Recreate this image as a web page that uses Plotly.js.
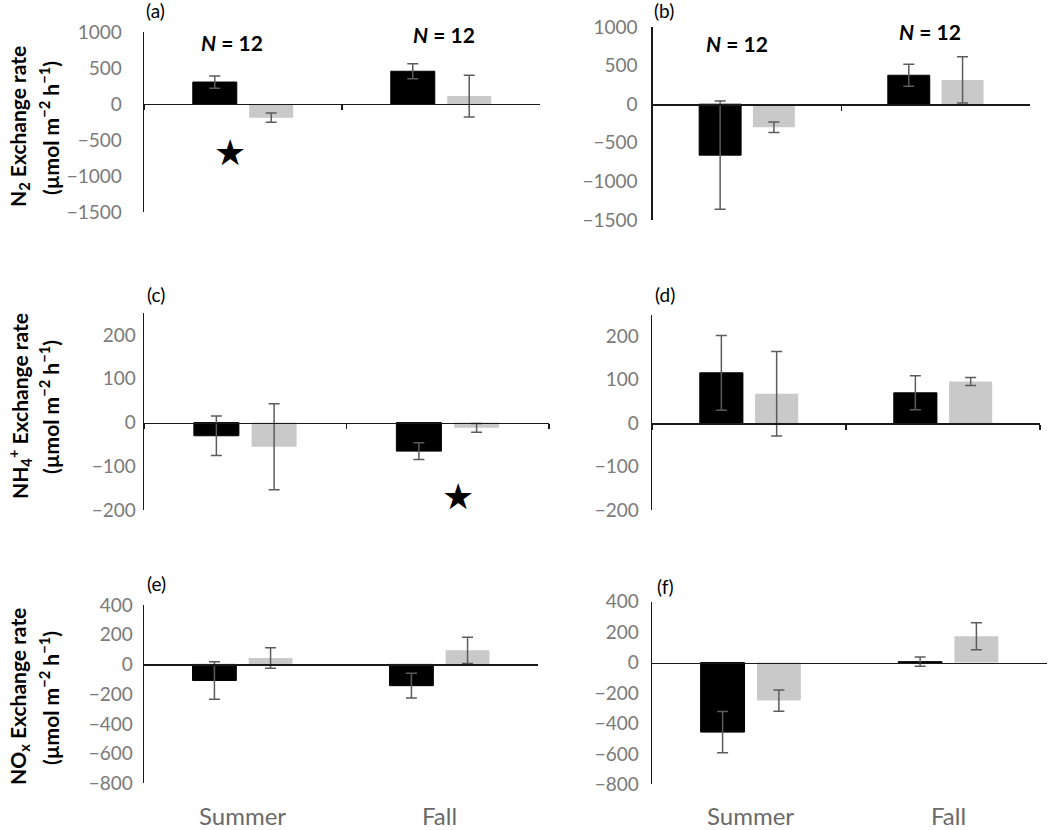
<!DOCTYPE html>
<html>
<head>
<meta charset="utf-8">
<script src="https://cdn.plot.ly/plotly-3.0.1.min.js"></script>
<style>
  html, body { margin: 0; padding: 0; background: #fff; }
  #chart { width: 1050px; height: 830px; }
</style>
</head>
<body>
<div id="chart"></div>
<script>
// Seasonal exchange rates, two sites (left / right column), two treatments per season
const seasons = ['Summer', 'Fall'];

// N2 exchange rate (µmol m-2 h-1)
const n2LeftDark = [305, 455];
const n2LeftDarkErr = [85, 105];
const n2LeftLight = [-190, 110];
const n2LeftLightErr = [65, 290];
const n2RightDark = [-660, 375];
const n2RightDarkErr = [700, 141];
const n2RightLight = [-300, 315];
const n2RightLightErr = [68, 300];

// NH4+ exchange rate
const nh4LeftDark = [-30, -65];
const nh4LeftDarkErr = [45, 19];
const nh4LeftLight = [-55, -12];
const nh4LeftLightErr = [98, 10];
const nh4RightDark = [116, 70];
const nh4RightDarkErr = [86, 39];
const nh4RightLight = [68, 96];
const nh4RightLightErr = [97, 9];

// NOx exchange rate
const noxLeftDark = [-108, -143];
const noxLeftDarkErr = [126, 83];
const noxLeftLight = [43, 95];
const noxLeftLightErr = [69, 88];
const noxRightDark = [-457, 6];
const noxRightDarkErr = [135, 31];
const noxRightLight = [-250, 173];
const noxRightLightErr = [70, 89];

// Sample sizes shown above the N2 panels
const sampleSizes = [12, 12];

// Significance stars: [panel, season, value]
const starMarks = [['a', 'Summer', -680], ['c', 'Fall', -169]];

const W = 1050, H = 830;
const px = v => v / W;
const py = v => 1 - v / H;

// Panel frames in pixels: left/right of x axis, top/bottom of y axis
const panels = [
  {id: 'a', x0: 144, x1: 540, top: 32, bot: 212, range: [-1500, 1000], dtick: 500, gap: 17,
   dark: n2LeftDark, darkErr: n2LeftDarkErr, light: n2LeftLight, lightErr: n2LeftLightErr},
  {id: 'b', x0: 652.7, x1: 1030, top: 27, bot: 220, range: [-1500, 1000], dtick: 500, gap: 10,
   dark: n2RightDark, darkErr: n2RightDarkErr, light: n2RightLight, lightErr: n2RightLightErr},
  {id: 'c', x0: 144, x1: 549, top: 313, bot: 510.3, range: [-200, 250], dtick: 100, gap: 3,
   dark: nh4LeftDark, darkErr: nh4LeftDarkErr, light: nh4LeftLight, lightErr: nh4LeftLightErr},
  {id: 'd', x0: 652, x1: 1040, top: 314.5, bot: 510.3, range: [-200, 250], dtick: 100, gap: 8,
   dark: nh4RightDark, darkErr: nh4RightDarkErr, light: nh4RightLight, lightErr: nh4RightLightErr},
  {id: 'e', x0: 144, x1: 538, top: 605, bot: 783.3, range: [-800, 400], dtick: 200, gap: 6,
   dark: noxLeftDark, darkErr: noxLeftDarkErr, light: noxLeftLight, lightErr: noxLeftLightErr, bottom: true},
  {id: 'f', x0: 652, x1: 1047, top: 601.7, bot: 784.3, range: [-800, 400], dtick: 200, gap: 8,
   dark: noxRightDark, darkErr: noxRightDarkErr, light: noxRightLight, lightErr: noxRightLightErr, bottom: true}
];

const tickGray = '#7a7a7a';
const errGray = '#5c5c5c';
const traces = [];
const layout = {
  width: W, height: H,
  margin: {l: 0, r: 0, t: 0, b: 0},
  paper_bgcolor: '#fff', plot_bgcolor: 'rgba(0,0,0,0)',
  showlegend: false,
  barmode: 'group', bargap: 0.43, bargroupgap: 0.22,
  font: {family: 'Lato, "Open Sans", sans-serif', color: '#000'},
  annotations: []
};

const axisIndex = {};
panels.forEach((p, i) => {
  const n = i + 1;
  const xa = 'x' + n, ya = 'y' + n;
  axisIndex[p.id] = {xa, ya};
  const yDom = [py(p.bot), py(p.top)];
  const zeroFrac = yDom[0] + (0 - p.range[0]) / (p.range[1] - p.range[0]) * (yDom[1] - yDom[0]);

  layout['xaxis' + n] = {
    domain: [px(p.x0), px(p.x1)], anchor: 'free', position: zeroFrac,
    type: 'category', categoryarray: seasons, range: [-0.5, 1.5],
    showline: true, linecolor: '#1a1a1a', linewidth: 1.3,
    ticks: p.bottom ? '' : 'outside', tickson: 'boundaries', ticklen: 5,
    tickcolor: '#1a1a1a', tickwidth: 1.3,
    showticklabels: false, showgrid: false, zeroline: false, fixedrange: true
  };
  layout['yaxis' + n] = {
    domain: yDom, anchor: xa, range: p.range, dtick: p.dtick, tick0: 0,
    showline: true, linecolor: '#1a1a1a', linewidth: 1.3,
    ticks: 'outside', ticklen: p.gap, tickcolor: 'rgba(0,0,0,0)',
    tickfont: {family: 'Lato, sans-serif', size: 19, color: tickGray},
    showgrid: false, zeroline: false, fixedrange: true
  };

  traces.push({
    type: 'bar', x: seasons, y: p.dark, xaxis: xa, yaxis: ya,
    marker: {color: '#000', line: {color: '#000', width: 1}},
    error_y: {type: 'data', array: p.darkErr, color: errGray, thickness: 1.5, width: 5.5},
    hoverinfo: 'skip'
  });
  traces.push({
    type: 'bar', x: seasons, y: p.light, xaxis: xa, yaxis: ya,
    marker: {color: '#c9c9c9', line: {width: 0}},
    error_y: {type: 'data', array: p.lightErr, color: errGray, thickness: 1.5, width: 5.5},
    hoverinfo: 'skip'
  });
});

// Panel letters
const letterPos = {a: [155, 10], b: [664, 10], c: [156, 294], d: [665, 294], e: [156, 583], f: [666, 586]};
Object.keys(letterPos).forEach(k => {
  layout.annotations.push({
    xref: 'paper', yref: 'paper', x: px(letterPos[k][0]), y: py(letterPos[k][1]),
    text: '(' + k + ')', showarrow: false, xanchor: 'center', yanchor: 'middle',
    font: {family: 'Lato, sans-serif', size: 19, color: '#000'}
  });
});

// Sample size labels above the N2 panels
const nPos = [[232, 42], [444, 34], [737, 43], [930, 31]];
nPos.forEach((pos, i) => {
  layout.annotations.push({
    xref: 'paper', yref: 'paper', x: px(pos[0]), y: py(pos[1]),
    text: '<i>N</i> = ' + sampleSizes[i % 2], showarrow: false,
    xanchor: 'center', yanchor: 'middle',
    font: {family: 'Lato, sans-serif', size: 21, color: '#000', weight: 'bold'}
  });
});

// Y axis titles (two lines each, left column)
const yTitles = [
  ['N<sub>2</sub> Exchange rate', 127],
  ['NH<sub>4</sub><sup>+</sup> Exchange rate', 406],
  ['NO<sub>x</sub> Exchange rate', 697]
];
yTitles.forEach(t => {
  layout.annotations.push({
    xref: 'paper', yref: 'paper', x: px(19), y: py(t[1]), textangle: -90,
    text: t[0], showarrow: false, xanchor: 'center', yanchor: 'middle',
    font: {family: 'Lato, sans-serif', size: 21, color: '#000', weight: 'bold'}
  });
  layout.annotations.push({
    xref: 'paper', yref: 'paper', x: px(49), y: py(t[1] + 1), textangle: -90,
    text: '(µmol m<sup>−2</sup> h<sup>−1</sup>)', showarrow: false, xanchor: 'center', yanchor: 'middle',
    font: {family: 'Lato, sans-serif', size: 21, color: '#000', weight: 'bold'}
  });
});

// Season labels under the bottom panels
['e', 'f'].forEach(id => {
  const ax = axisIndex[id];
  seasons.forEach(s => {
    layout.annotations.push({
      xref: ax.xa, yref: 'paper', x: s, y: py(815),
      text: s, showarrow: false, xanchor: 'center', yanchor: 'middle',
      font: {family: 'Lato, sans-serif', size: 24, color: '#6a6a6a'}
    });
  });
});

// Significance stars
const starShift = {a: -13, c: 10};
starMarks.forEach(m => {
  const ax = axisIndex[m[0]];
  layout.annotations.push({
    xref: ax.xa, yref: ax.ya, x: m[1], y: m[2], xshift: starShift[m[0]],
    text: '★', showarrow: false, xanchor: 'center', yanchor: 'middle',
    font: {family: '"DejaVu Sans", sans-serif', size: 36, color: '#000'}
  });
});

Plotly.newPlot('chart', traces, layout, {displayModeBar: false, staticPlot: true});
</script>
</body>
</html>
